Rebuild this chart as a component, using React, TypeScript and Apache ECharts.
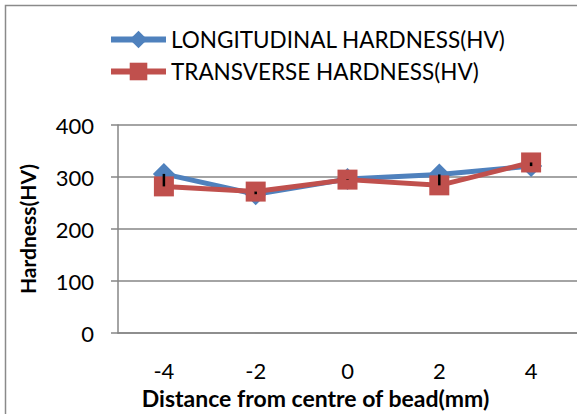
import React, { useEffect, useRef } from "react";
import * as echarts from "echarts";

const categories = ["-4", "-2", "0", "2", "4"];
const longitudinal = [306, 267, 296, 305, 321];
const transverse = [282, 272, 295, 284, 328];
const yTicks = { min: 0, max: 400, interval: 100 };

const FONT = "Lato, 'Noto Sans', sans-serif";

export default function App() {
  const ref = useRef<HTMLDivElement>(null);
  useEffect(() => {
    if (!ref.current) return;
    const chart = echarts.init(ref.current, undefined, { renderer: "svg" });
    const hiLow = categories.map((_, i) => [
      i,
      Math.min(longitudinal[i], transverse[i]),
      Math.max(longitudinal[i], transverse[i]),
    ]);
    chart.setOption({
      animation: false,
      backgroundColor: "#ffffff",
      textStyle: { fontFamily: FONT },
      graphic: [
        {
          type: "rect",
          shape: { x: 5.5, y: 5.5, width: 620, height: 520 },
          style: { fill: "none", stroke: "#8a8a8a", lineWidth: 1.5 },
          silent: true,
          z: -10,
        },
      ],
      legend: {
        orient: "vertical",
        left: 103,
        top: 23,
        itemWidth: 55,
        itemHeight: 22,
        itemGap: 9,
        lineStyle: { width: 6 },
        textStyle: { fontSize: 22.5, color: "#000", fontFamily: FONT },
        data: ["LONGITUDINAL HARDNESS(HV)", "TRANSVERSE HARDNESS(HV)"],
      },
      grid: { left: 118, top: 125, bottom: 74, right: -6 },
      xAxis: {
        type: "category",
        data: categories,
        boundaryGap: true,
        name: "Distance from centre of bead(mm)",
        nameLocation: "middle",
        nameGap: 44,
        nameTextStyle: {
          fontSize: 23,
          fontWeight: "bold",
          color: "#000",
          fontFamily: FONT,
          padding: [0, 64, 0, 0],
        },
        axisLine: { lineStyle: { color: "#868686", width: 1.5 } },
        axisTick: { show: false },
        axisLabel: { fontSize: 22, color: "#000", margin: 26, fontFamily: FONT },
      },
      yAxis: {
        type: "value",
        min: yTicks.min,
        max: yTicks.max,
        interval: yTicks.interval,
        name: "Hardness(HV)",
        nameLocation: "middle",
        nameGap: 80,
        nameTextStyle: { fontSize: 21, fontWeight: "bold", color: "#000", fontFamily: FONT },
        axisLine: { show: true, lineStyle: { color: "#868686", width: 1.5 } },
        axisTick: { show: true, length: 7, lineStyle: { color: "#868686", width: 1.5 } },
        axisLabel: { fontSize: 22, color: "#000", margin: 24, fontFamily: FONT },
        splitLine: { lineStyle: { color: "#868686", width: 1.5 } },
      },
      series: [
        {
          name: "LONGITUDINAL HARDNESS(HV)",
          type: "line",
          data: longitudinal,
          symbol: "diamond",
          symbolSize: 22,
          itemStyle: { color: "#4F81BD" },
          lineStyle: { color: "#4F81BD", width: 5 },
          z: 2,
        },
        {
          name: "TRANSVERSE HARDNESS(HV)",
          type: "line",
          data: transverse,
          symbol: "rect",
          symbolSize: 20,
          itemStyle: { color: "#C0504D" },
          lineStyle: { color: "#C0504D", width: 5 },
          z: 3,
        },
        {
          name: "hilow",
          type: "custom",
          data: hiLow,
          z: 5,
          renderItem: (params: any, api: any) => {
            const p1 = api.coord([api.value(0), api.value(1)]);
            const p2 = api.coord([api.value(0), api.value(2)]);
            return {
              type: "line",
              shape: { x1: p1[0], y1: p1[1], x2: p2[0], y2: p2[1] },
              style: { stroke: "#000", lineWidth: 2.5 },
            };
          },
        },
      ],
    });
    return () => chart.dispose();
  }, []);
  return <div ref={ref} style={{ width: 577, height: 414, position: "absolute", left: 0, top: 0 }} />;
}
